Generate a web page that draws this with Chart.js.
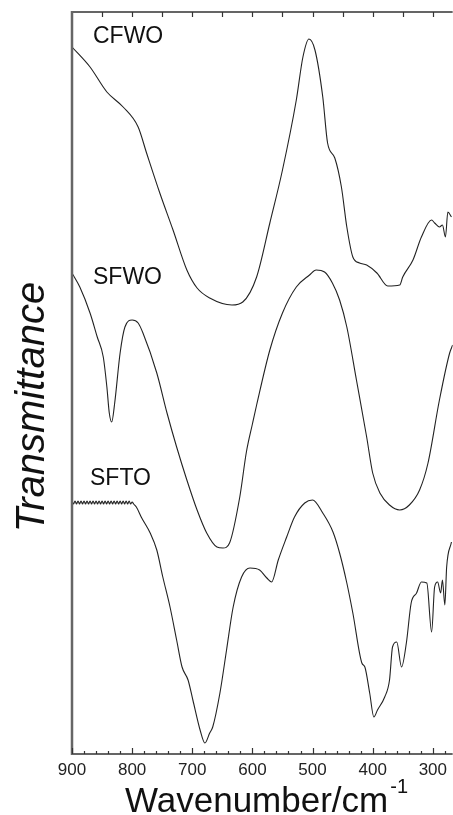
<!DOCTYPE html>
<html>
<head>
  <title>FTIR spectra</title>
  <script src="https://cdn.jsdelivr.net/npm/chart.js"></script>
  <style>
    html, body { margin: 0; padding: 0; background: #fff; }
    #wrap { width: 453px; height: 815px; position: relative; }
  </style>
</head>
<body>
  <div id="wrap"><canvas id="spectra"></canvas></div>

  <script>
    // wavenumber (cm-1) and transmittance (a.u., offset per sample)
    const cfwoWn = [900, 870, 842, 815, 790, 776, 754, 732, 709, 692, 671, 634, 616, 593, 571, 550, 527, 516, 506, 496,
      483, 475, 463, 452, 443, 433, 422, 410, 393, 375, 355, 350, 333, 319, 302, 297, 289, 284, 279, 275, 269];
    const cfwoT = [707, 687, 662, 647, 627, 601, 561, 524, 484, 466, 456, 449, 452, 477, 531, 584, 654, 697, 715, 704,
      657, 611, 596, 567, 527, 497, 491, 489, 481, 468, 469, 477, 494, 517, 534, 531, 527, 529, 517, 542, 537];

    const sfwoWn = [900, 887, 870, 858, 848, 842, 838, 834, 829, 820, 812, 800, 790, 782, 759, 742, 726, 709, 692, 676,
      659, 649, 638, 621, 610, 600, 593, 571, 550, 527, 505, 494, 480, 467, 455, 443, 427, 410, 400, 388,
      372, 355, 339, 322, 308, 289, 272, 267];
    const sfwoT = [481, 467, 441, 417, 397, 367, 341, 332, 351, 401, 427, 434, 431, 421, 381, 341, 307, 274, 244, 221,
      207, 206, 211, 257, 302, 330, 349, 404, 441, 467, 479, 484, 482, 471, 454, 427, 374, 317, 281, 261,
      249, 244, 249, 264, 291, 354, 401, 409];

    const sftoWn = [900, 897.5, 895, 892.5, 890, 887.5, 885, 882.5, 880, 877.5, 875, 872.5, 870, 867.5, 865, 862.5,
      860, 857.5, 855, 852.5, 850, 847.5, 845, 842.5, 840, 837.5, 835, 832.5, 830, 827.5, 825, 822.5,
      820, 817.5, 815, 812.5, 810, 807.5, 805, 802.5, 800, 797.5,
      793, 784, 770, 759, 749, 737, 726, 717, 707, 699, 687, 679, 671, 666, 654, 643, 632, 618, 604, 588,
      576, 568, 557, 543, 530, 513, 500, 483, 466, 455, 443, 433, 418, 413, 405, 398, 392, 380, 372, 367,
      360, 352, 344, 336, 327, 319, 310, 302, 297, 292, 287, 284, 280, 277, 269];
    const sftoT = [253, 250, 253, 250, 253, 250, 253, 250, 253, 250, 253, 250, 253, 250, 253, 250,
      253, 250, 253, 250, 253, 250, 253, 250, 253, 250, 253, 250, 253, 250, 253, 250,
      253, 250, 253, 250, 253, 250, 253, 250, 252, 250,
      247, 236, 221, 204, 177, 147, 114, 87, 74, 54, 24, 11, 21, 27, 61, 104, 147, 177, 186, 184,
      176, 172, 194, 217, 237, 251, 254, 241, 222, 201, 171, 141, 91, 87, 61, 37, 44, 57, 74, 107,
      112, 87, 111, 151, 161, 172, 171, 122, 167, 172, 161, 174, 149, 187, 212];

    const seriesNames = ['CFWO', 'SFWO', 'SFTO'];
    const xTickValues = [900, 800, 700, 600, 500, 400, 300];
    const xRange = [267, 900];
    const yRange = [0, 742];

    // where the sample names sit (pixels)
    const namePos = [[93, 43], [93, 284], [90, 485]];

    function pts(wn, t) {
      return wn.map((w, i) => ({ x: w, y: t[i] }));
    }

    const lineStyle = {
      borderColor: '#222',
      borderWidth: 1.1,
      pointRadius: 0,
      fill: false,
      cubicInterpolationMode: 'monotone'
    };

    const decorations = {
      id: 'decorations',
      afterDraw(chart) {
        const ctx = chart.ctx;
        const a = chart.chartArea;
        const x = chart.scales.x;
        ctx.save();

        // frame
        ctx.strokeStyle = '#333';
        ctx.lineWidth = 1.5;
        ctx.beginPath();
        ctx.moveTo(a.left, a.top); ctx.lineTo(a.right, a.top);
        ctx.moveTo(a.left, a.bottom); ctx.lineTo(a.right, a.bottom);
        ctx.stroke();
        ctx.strokeStyle = '#666';
        ctx.lineWidth = 2.5;
        ctx.beginPath();
        ctx.moveTo(a.left, a.top - 1); ctx.lineTo(a.left, a.bottom + 1);
        ctx.stroke();

        // tick marks, all pointing inwards
        ctx.strokeStyle = '#333';
        ctx.lineWidth = 1.2;
        ctx.beginPath();
        for (let v = 900; v >= xRange[0]; v -= 20) {
          const px = Math.round(x.getPixelForValue(v)) + 0.5;
          const len = v % 100 === 0 ? 6 : 3;
          ctx.moveTo(px, a.bottom); ctx.lineTo(px, a.bottom - len);
        }
        for (let v = 850; v >= xRange[0]; v -= 50) {
          const px = Math.round(x.getPixelForValue(v)) + 0.5;
          ctx.moveTo(px, a.top); ctx.lineTo(px, a.top + 5);
        }
        ctx.stroke();

        // sample names
        ctx.fillStyle = '#111';
        ctx.font = '23px "Liberation Sans", Arial, sans-serif';
        ctx.textBaseline = 'alphabetic';
        ctx.textAlign = 'left';
        seriesNames.forEach((n, i) => ctx.fillText(n, namePos[i][0], namePos[i][1]));

        // x title with superscript
        ctx.font = '35px "Liberation Sans", Arial, sans-serif';
        ctx.fillText('Wavenumber/cm', 125, 812);
        const w = ctx.measureText('Wavenumber/cm').width;
        ctx.font = '20px "Liberation Sans", Arial, sans-serif';
        ctx.fillText('-1', 125 + w + 2, 793);

        // y title
        ctx.translate(33, 407);
        ctx.rotate(-Math.PI / 2);
        ctx.font = 'italic 40px "Liberation Sans", Arial, sans-serif';
        ctx.textAlign = 'center';
        ctx.textBaseline = 'middle';
        ctx.fillText('Transmittance', 0, 0);
        ctx.restore();
      }
    };

    new Chart(document.getElementById('spectra'), {
      type: 'line',
      data: {
        datasets: [
          Object.assign({ label: seriesNames[0], data: pts(cfwoWn, cfwoT) }, lineStyle),
          Object.assign({ label: seriesNames[1], data: pts(sfwoWn, sfwoT) }, lineStyle),
          Object.assign({ label: seriesNames[2], data: pts(sftoWn, sftoT) }, lineStyle)
        ]
      },
      options: {
        responsive: true,
        maintainAspectRatio: false,
        animation: false,
        layout: { padding: { top: 12, right: 0, left: 0, bottom: 0 } },
        plugins: { legend: { display: false }, tooltip: { enabled: false } },
        scales: {
          x: {
            type: 'linear',
            reverse: true,
            min: xRange[0],
            max: xRange[1],
            grid: { display: false, drawTicks: false },
            border: { display: false },
            afterBuildTicks(scale) {
              scale.ticks = xTickValues.map(v => ({ value: v }));
            },
            afterFit(scale) { scale.height = 61; },
            ticks: {
              padding: 6,
              color: '#222',
              font: { family: '"Liberation Sans", Arial, sans-serif', size: 17 },
              callback: v => String(v)
            }
          },
          y: {
            type: 'linear',
            min: yRange[0],
            max: yRange[1],
            grid: { display: false, drawTicks: false },
            border: { display: false },
            ticks: { display: false },
            afterFit(scale) { scale.width = 72; }
          }
        }
      },
      plugins: [decorations]
    });
  </script>
</body>
</html>
